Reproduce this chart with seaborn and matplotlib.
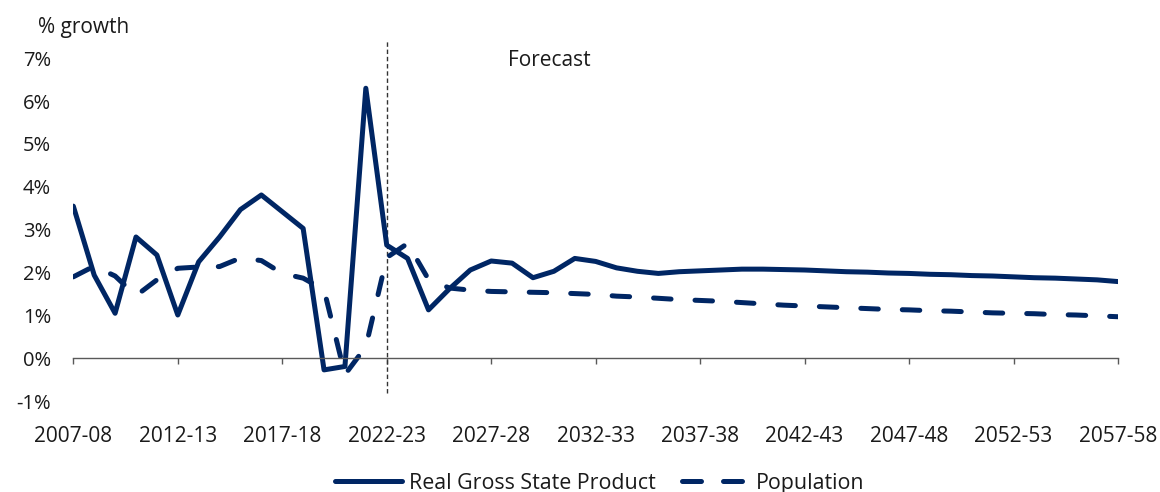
import matplotlib
matplotlib.use("Agg")
import matplotlib.pyplot as plt
import numpy as np
import pandas as pd
import seaborn as sns
from matplotlib.lines import Line2D

# Financial years 2007-08 .. 2057-58
years = [f"{y}-{str(y + 1)[-2:]}" for y in range(2007, 2058)]

gsp = [3.55, 1.94, 1.05, 2.83, 2.41, 1.01, 2.25, 2.83, 3.47, 3.81,
       3.42, 3.03, -0.27, -0.19, 6.30, 2.64, 2.33, 1.13, 1.62, 2.06,
       2.27, 2.22, 1.88, 2.03, 2.33, 2.26, 2.11, 2.03, 1.98, 2.02,
       2.04, 2.06, 2.08, 2.08, 2.07, 2.06, 2.04, 2.02, 2.01, 1.99,
       1.98, 1.96, 1.95, 1.93, 1.92, 1.90, 1.88, 1.87, 1.85, 1.83,
       1.79]

population = [1.90, 2.15, 1.92, 1.46, 1.83, 2.10, 2.13, 2.14, 2.34, 2.28,
              1.98, 1.87, 1.60, -0.38, 0.27, 2.35, 2.68, 1.84, 1.64, 1.59,
              1.56, 1.55, 1.54, 1.53, 1.51, 1.49, 1.45, 1.43, 1.40, 1.37,
              1.35, 1.33, 1.30, 1.27, 1.24, 1.22, 1.20, 1.18, 1.16, 1.14,
              1.13, 1.11, 1.10, 1.08, 1.06, 1.05, 1.04, 1.02, 1.01, 0.99,
              0.97]

series_names = ["Real Gross State Product", "Population"]
xtick_labels = ["2007-08", "2012-13", "2017-18", "2022-23", "2027-28",
                "2032-33", "2037-38", "2042-43", "2047-48", "2052-53",
                "2057-58"]
ytick_values = [-1, 0, 1, 2, 3, 4, 5, 6, 7]
forecast_start = "2022-23"

NAVY = "#002664"
TEXT = "#1a1a1a"
AXIS = "#595959"

sns.set_theme(style="white")
plt.rcParams["font.family"] = ["Open Sans", "DejaVu Sans"]

df = pd.DataFrame({
    "year": years * 2,
    "idx": list(range(len(years))) * 2,
    "value": gsp + population,
    "series": [series_names[0]] * len(years) + [series_names[1]] * len(years),
})

fig = plt.figure(figsize=(11.6, 4.92), dpi=100)
ax = fig.add_axes([0.0632, 0.1846, 0.9006, 0.7319])

LW = 3.6
sns.lineplot(data=df, x="idx", y="value", style="series",
             dashes={series_names[0]: "", series_names[1]: (3.5, 4.8)},
             color=NAVY, linewidth=LW, legend=False, sort=False, ax=ax,
             dash_capstyle="round", solid_capstyle="round",
             solid_joinstyle="round", dash_joinstyle="round")

ax.set_xlim(0, len(years) - 1)
ax.set_ylim(-1, 7.4)

# forecast divider
fx = years.index(forecast_start)
ymin_frac = (-0.8 - (-1)) / (7.4 - (-1))
ax.axvline(fx, ymin=ymin_frac, ymax=1.0, color="#333333", lw=1.0,
           ls=(0, (3.2, 2.0)), zorder=1)
ax.text(20.8, 6.94, "Forecast", fontsize=15, color=TEXT,
        ha="left", va="center")

# axes styling
for s in ["left", "top", "right"]:
    ax.spines[s].set_visible(False)
ax.spines["bottom"].set_position(("data", 0))
ax.spines["bottom"].set_color(AXIS)
ax.spines["bottom"].set_linewidth(1.0)

ax.set_xticks([years.index(lbl) for lbl in xtick_labels])
ax.set_xticklabels(xtick_labels)
ax.tick_params(axis="x", direction="out", length=4.5, width=1.0,
               color=AXIS, labelsize=15, labelcolor=TEXT, pad=44,
               bottom=True)
ax.set_yticks(ytick_values)
ax.set_yticklabels([f"{v}%" for v in ytick_values])
ax.tick_params(axis="y", length=0, labelsize=14.5, labelcolor=TEXT, pad=16)
ax.set_xlabel("")
ax.set_ylabel("")
ax.grid(False)

fig.text(0.033, 0.945, "% growth", fontsize=15, color=TEXT,
         ha="left", va="center")

handles = [
    Line2D([], [], color=NAVY, lw=LW, solid_capstyle="round"),
    Line2D([], [], color=NAVY, lw=LW, ls=(0, (3.8, 4.4)),
           dash_capstyle="round"),
]
fig.legend(handles, series_names, loc="lower center",
           bbox_to_anchor=(0.517, -0.043), ncol=2, frameon=False,
           fontsize=15.4, handlelength=3.1, handletextpad=0.33,
           columnspacing=1.26, labelcolor=TEXT)

fig.savefig("out.png", dpi=100)
